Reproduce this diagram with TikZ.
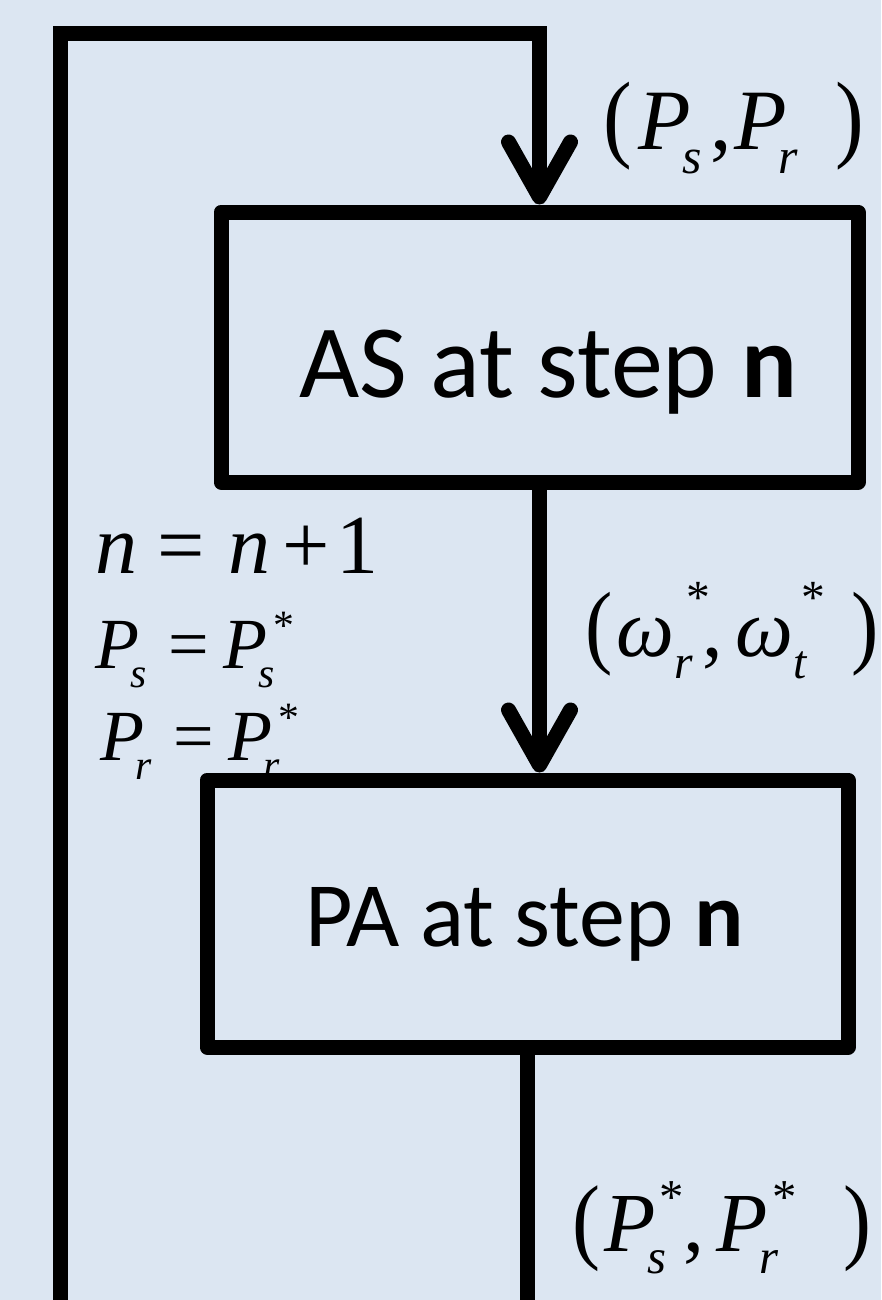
\documentclass[tikz,border=0pt]{standalone}
\usepackage{fontspec}
\usepackage{graphicx}
\setmainfont{Liberation Serif}
\newfontfamily\carl{Carlito}
\usetikzlibrary{arrows.meta}
\definecolor{bgblue}{RGB}{220,230,242}
\newcommand\ital[1]{{\itshape #1}}
\newcommand\sbx[1]{\raisebox{-0.27em}{\scalebox{0.58}{\itshape #1}}}
\newcommand\stx[1]{\raisebox{#1}{\scalebox{0.58}{*}}}
% sub with star: #1 sub letter, #2 star x-offset, #3 star raise
\newcommand\subsup[3]{\makebox[0pt][l]{\hspace{#2}\stx{#3}}\sbx{#1}}
\newcommand\lpar{\scalebox{1}[1.13]{(}}
\newcommand\rpar{\scalebox{1}[1.13]{)}}
\begin{document}
\begin{tikzpicture}[x=1pt,y=-1pt,
  box/.style={draw, line width=15pt, line join=round, inner sep=0pt},
  wire/.style={line width=15pt, line join=miter},
  arr/.style={wire, -{Straight Barb[length=55pt,width=62pt,line cap=round,line join=round]}},
  boxtext/.style={anchor=base west, inner sep=0pt},
  lab/.style={anchor=base west, inner sep=0pt}]
\fill[bgblue] (0,0) rectangle (881,1300);
\useasboundingbox (0,0) rectangle (881,1300);
% boxes
\node[box, minimum width=637pt, minimum height=270pt] (AS) at (539.5,347) {};
\node[box, minimum width=641pt, minimum height=267pt] (PA) at (527.5,913.5) {};
\node[boxtext, font=\carl\fontsize{104}{104}\selectfont] (AStext) at (299,397) {AS at step \textbf{n}};
\node[boxtext, font=\carl\fontsize{92}{92}\selectfont] (PAtext) at (305,946) {PA at step \textbf{n}};
% loop
\coordinate (bl) at (60,1300);
\coordinate (tl) at (60,34);
\coordinate (tr) at (AS.north |- tl);
\coordinate (br) at (PA.south |- bl);
\draw[arr] (bl) -- (tl) -- (tr) -- (AS.north);
\draw[arr] (AS.south) -- (AS.south |- PA.north);
\draw[wire] (PA.south) -- (br);
% labels
\node[lab, font=\fontsize{86}{86}\selectfont] (in) at (603,150)
  {\lpar\hspace{0.08em}\ital{P}\hspace{-0.1em}\sbx{s}\hspace{0.1em},\hspace{0.03em}\ital{P}\hspace{-0.1em}\sbx{r}\hspace{0.43em}\rpar};
\node[lab, font=\fontsize{84}{84}\selectfont] (inc) at (95,573)
  {\ital{n}\hspace{0.24em}=\hspace{0.28em}\ital{n}\hspace{0.15em}+\hspace{0.07em}1};
\node[lab, font=\fontsize{72}{72}\selectfont] (ups) at (95,668)
  {\ital{P}\hspace{-0.12em}\sbx{s}\hspace{0.3em}=\hspace{0.2em}\ital{P}\hspace{-0.12em}\subsup{s}{0.2em}{0.4em}};
\node[lab, font=\fontsize{72}{72}\selectfont] (upr) at (100,760)
  {\ital{P}\hspace{-0.12em}\sbx{r}\hspace{0.3em}=\hspace{0.2em}\ital{P}\hspace{-0.12em}\subsup{r}{0.2em}{0.4em}};
\node[lab, font=\fontsize{82}{82}\selectfont] (om) at (585,656)
  {\lpar\hspace{0.05em}\ital{ω}\subsup{r}{0.15em}{0.52em}\hspace{0.12em},\hspace{0.15em}\ital{ω}\subsup{t}{0.1em}{0.52em}\hspace{0.55em}\rpar};
\node[lab, font=\fontsize{84}{84}\selectfont] (out) at (572,1251)
  {\lpar\hspace{0.05em}\ital{P}\hspace{-0.1em}\subsup{s}{0.15em}{0.45em}\hspace{0.2em},\hspace{0.15em}\ital{P}\hspace{-0.1em}\subsup{r}{0.15em}{0.45em}\hspace{0.77em}\rpar};
\end{tikzpicture}
\end{document}
